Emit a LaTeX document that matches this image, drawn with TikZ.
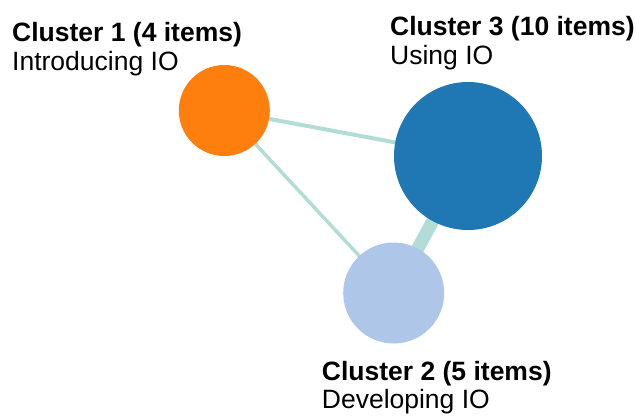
\documentclass[tikz,border=0pt]{standalone}
\usepackage{fontspec}
\setmainfont{Liberation Sans}
\usepackage{xcolor}
\usepackage{tikz}
\usetikzlibrary{backgrounds}

\definecolor{clorange}{HTML}{FF7F0E}
\definecolor{cldark}{HTML}{1F77B4}
\definecolor{cllight}{HTML}{AEC7E8}
\definecolor{cledge}{RGB}{178,220,214}

\begin{document}
\begin{tikzpicture}[x=1pt,y=-1pt,
	cluster/.style={circle,inner sep=0pt,minimum size=#1},
	edge/.style={cledge,line width=#1},
	title/.style={anchor=base west,inner sep=0pt,font=\fontsize{26.5}{30}\selectfont\bfseries},
	sub/.style={anchor=base west,inner sep=0pt,font=\fontsize{26.5}{30}\selectfont}]
	\useasboundingbox (0,0) rectangle (636,417);
	% clusters
	\node[cluster=91pt,fill=clorange] (c1) at (224.3,110.5) {};
	\node[cluster=101pt,fill=cllight] (c2) at (393.7,293) {};
	\node[cluster=148pt,fill=cldark] (c3) at (468,156) {};
	% links
	\begin{scope}[on background layer]
	\draw[edge=4pt] (c1.center) -- (c3.center);
	\draw[edge=3.5pt] (c1.center) -- (c2.center);
	\draw[edge=13pt] (c2.center) -- (c3.center);
	\end{scope}
	% labels
	\node[title] (t1) at (12,41.7) {Cluster 1 (4 items)};
	\node[sub] (s1) at (12,70.7) {Introducing IO};
	\node[title] (t3) at (390,35.7) {Cluster 3 (10 items)};
	\node[sub] (s3) at (390,65) {Using IO};
	\node[title] (t2) at (321.7,380) {Cluster 2 (5 items)};
	\node[sub] (s2) at (321.7,408.3) {Developing IO};
\end{tikzpicture}
\end{document}
